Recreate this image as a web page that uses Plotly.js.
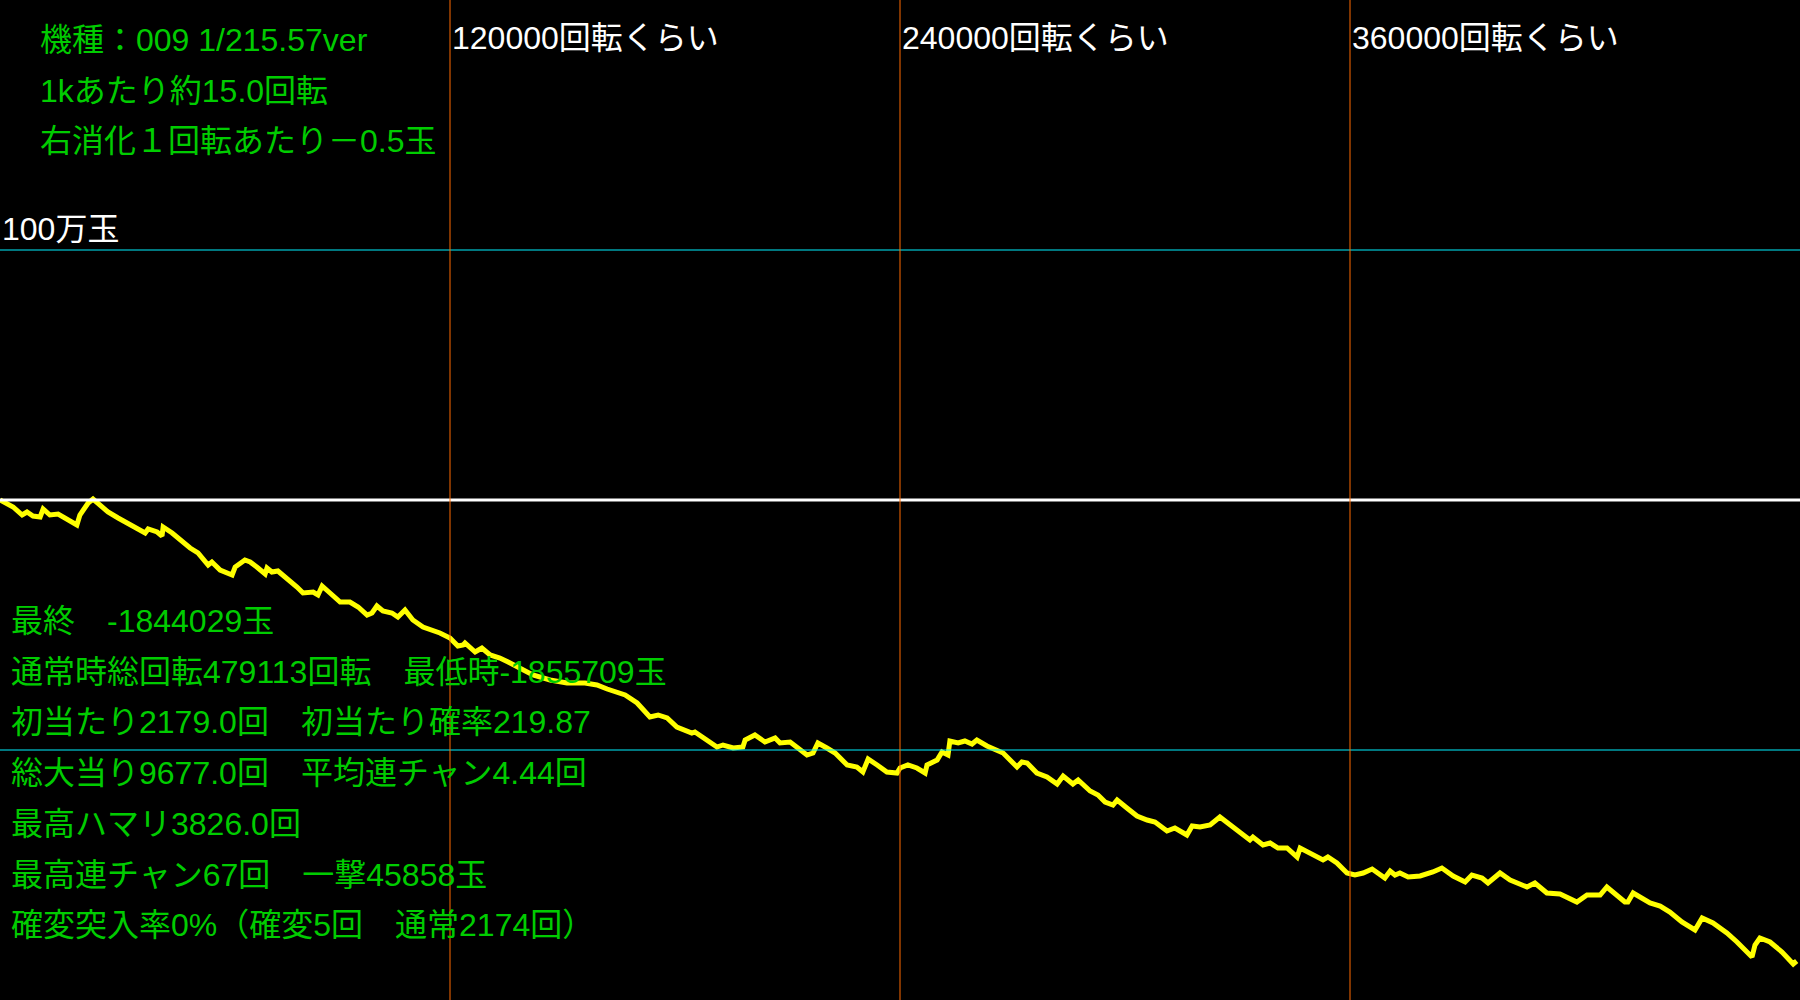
<!DOCTYPE html>
<html>
<head>
<meta charset="utf-8">
<script src="https://cdn.plot.ly/plotly-3.0.1.min.js"></script>
<style>
  html, body { margin: 0; padding: 0; background: #000; }
  #chart { width: 1800px; height: 1000px; }
</style>
</head>
<body>
<div id="chart"></div>
<script>
// ---- data ----
const spins = [
  0, 3500, 5900, 7200, 8800, 10700, 11500, 13300, 15500, 17300, 19200, 20500, 21300, 23500, 24800,
  26700, 28800, 31500, 33900, 36500, 38700, 39500, 41900, 43200, 43500, 45900, 48500, 50700, 52800,
  55500, 56500, 58700, 61900, 62700, 65300, 66700, 68800, 70700, 71200, 72500, 74100, 76500, 79200,
  80800, 83500, 84800, 85900, 88000, 90700, 93300, 95500, 97900, 99200, 100500, 102100, 104500,
  106100, 108000, 110100, 112800, 115200, 117300, 120000, 122100,
  123500, 124000, 126700, 128500, 130700, 133300, 135500, 138700, 142100, 146700, 151200, 156000,
  159200, 161900, 164500, 166700, 169900, 173300, 175500, 177900, 180500, 183500, 184500, 185300,
  187500, 191200, 192800, 195500, 198100, 198700, 201300, 204000, 206700, 208000, 210700, 212500,
  215200, 216800, 218100, 220500, 222700, 225900, 228500, 230100, 231500, 233900, 236500, 239200,
  240000, 242100, 244500, 246700, 247200, 249900, 251200, 252800, 253300, 255500, 257300, 259200,
  260500, 263200, 265900, 267500, 271200, 272500, 273900, 276500, 279200, 281900, 283500, 286100,
  287500, 290700, 292800, 294700, 296800, 297900, 300500, 303200, 305900, 308000, 311200, 313300,
  316500, 317900, 320000, 322700, 325300, 328800, 333300, 334100, 336800, 338700, 340800, 343200,
  345900, 346700, 350100, 352800, 354100, 356500, 359200, 361300, 363500, 365900, 369300, 370700,
  372000, 373300,
  375500, 378700, 382100, 384500, 387500, 390700, 392500, 395200, 396800, 400000, 402700, 407200,
  409300, 412500, 416000, 420500, 423200, 426700, 428500, 433300, 434100, 435500, 440000, 442700,
  445300, 448500, 452000, 453900, 456800, 460500, 463200, 467200, 468000, 469300, 472000, 475200,
  478200, 479113
];
const balls = [
  0, -28000, -60000, -48000, -64000, -68000, -36000, -60000, -56000, -72000, -92000, -100000, -60000, -12000, 4000,
  -20000, -48000, -72000, -92000, -112000, -132000, -116000, -128000, -144000, -108000, -132000, -168000, -192000, -212000,
  -260000, -248000, -280000, -300000, -268000, -240000, -248000, -272000, -296000, -272000, -288000, -284000, -312000, -348000,
  -372000, -368000, -380000, -344000, -372000, -408000, -408000, -428000, -460000, -452000, -424000, -444000, -452000,
  -468000, -440000, -480000, -508000, -520000, -532000, -552000, -584000,
  -580000, -572000, -608000, -592000, -620000, -632000, -648000, -672000, -700000, -720000, -732000, -732000,
  -740000, -756000, -768000, -780000, -812000, -868000, -860000, -872000, -908000, -928000, -932000, -928000,
  -952000, -988000, -980000, -992000, -988000, -960000, -940000, -968000, -952000, -972000, -968000, -988000,
  -1020000, -1012000, -972000, -992000, -1012000, -1060000, -1068000, -1088000, -1036000, -1060000, -1088000, -1092000,
  -1072000, -1060000, -1072000, -1092000, -1060000, -1040000, -1008000, -1020000, -964000, -972000, -964000, -976000,
  -960000, -984000, -1000000, -1012000, -1068000, -1048000, -1052000, -1092000, -1108000, -1136000, -1104000, -1136000,
  -1120000, -1164000, -1180000, -1208000, -1220000, -1200000, -1232000, -1264000, -1280000, -1288000, -1324000, -1312000,
  -1340000, -1304000, -1308000, -1300000, -1268000, -1308000, -1360000, -1348000, -1380000, -1372000, -1392000, -1392000,
  -1428000, -1392000, -1420000, -1440000, -1428000, -1452000, -1492000, -1500000, -1492000, -1476000, -1512000, -1484000,
  -1500000, -1492000,
  -1508000, -1504000, -1488000, -1472000, -1504000, -1528000, -1500000, -1512000, -1532000, -1492000, -1520000, -1548000,
  -1532000, -1572000, -1576000, -1608000, -1580000, -1580000, -1548000, -1608000, -1608000, -1572000, -1612000, -1624000,
  -1648000, -1688000, -1720000, -1672000, -1692000, -1732000, -1768000, -1828000, -1780000, -1752000, -1768000, -1808000,
  -1855709, -1844029
];
const spinMarks = [120000, 240000, 360000];
const spinMarkSuffix = '回転くらい';
const ballMarks = [1000000, -1000000];
const ballMarkLabel = '100万玉';
const infoLines = [
  '機種：009 1/215.57ver',
  '1kあたり約15.0回転',
  '右消化１回転あたり－0.5玉'
];
const statLines = [
  '最終　-1844029玉',
  '通常時総回転479113回転　最低時-1855709玉',
  '初当たり2179.0回　初当たり確率219.87',
  '総大当り9677.0回　平均連チャン4.44回',
  '最高ハマリ3826.0回',
  '最高連チャン67回　一撃45858玉',
  '確変突入率0%（確変5回　通常2174回）'
];

// ---- layout ----
const FONT = 'Liberation Sans, "Noto Sans CJK JP", sans-serif';
const GREEN = '#00cc00';
const shapes = [];
shapes.push({type: 'line', xref: 'paper', yref: 'y', x0: 0, x1: 1, y0: 0, y1: 0,
  line: {color: '#ffffff', width: 3}, layer: 'above'});
ballMarks.forEach(v => shapes.push({type: 'line', xref: 'paper', yref: 'y', x0: 0, x1: 1, y0: v, y1: v,
  line: {color: '#00f0ff', width: 1}, layer: 'above'}));
spinMarks.forEach(v => shapes.push({type: 'line', xref: 'x', yref: 'paper', x0: v, x1: v, y0: 0, y1: 1,
  line: {color: '#ff6a00', width: 1}, layer: 'above'}));

const annotations = [];
spinMarks.forEach(v => annotations.push({
  x: v, xref: 'x', y: 1, yref: 'paper', yshift: -38, xanchor: 'left', yanchor: 'middle',
  text: v + spinMarkSuffix, showarrow: false, font: {family: FONT, size: 32, color: '#ffffff'}
}));
annotations.push({
  x: 0, xref: 'paper', y: ballMarks[0], yref: 'y', yshift: 21, xanchor: 'left', yanchor: 'middle',
  text: ballMarkLabel, showarrow: false, font: {family: FONT, size: 32, color: '#ffffff'}
});
infoLines.forEach((t, i) => annotations.push({
  x: 38 / 1800, xref: 'paper', y: 1 - (40 + i * 50.5) / 1000, yref: 'paper', xanchor: 'left', yanchor: 'middle',
  text: t, showarrow: false, font: {family: FONT, size: 32, color: GREEN}
}));
statLines.forEach((t, i) => annotations.push({
  x: 9 / 1800, xref: 'paper', y: 1 - (621 + i * 50.7) / 1000, yref: 'paper', xanchor: 'left', yanchor: 'middle',
  text: t, showarrow: false, font: {family: FONT, size: 32, color: GREEN}
}));

const trace = {
  x: spins, y: balls, type: 'scatter', mode: 'lines',
  line: {color: '#ffff00', width: 5}, hoverinfo: 'skip'
};

const layout = {
  width: 1800, height: 1000,
  margin: {l: 0, r: 0, t: 0, b: 0, pad: 0},
  paper_bgcolor: '#000000', plot_bgcolor: '#000000',
  showlegend: false,
  xaxis: {range: [0, 480000], visible: false, fixedrange: true},
  yaxis: {range: [-2000000, 2000000], visible: false, fixedrange: true},
  shapes: shapes,
  annotations: annotations
};

Plotly.newPlot('chart', [trace], layout, {staticPlot: true, displayModeBar: false});
</script>
</body>
</html>
